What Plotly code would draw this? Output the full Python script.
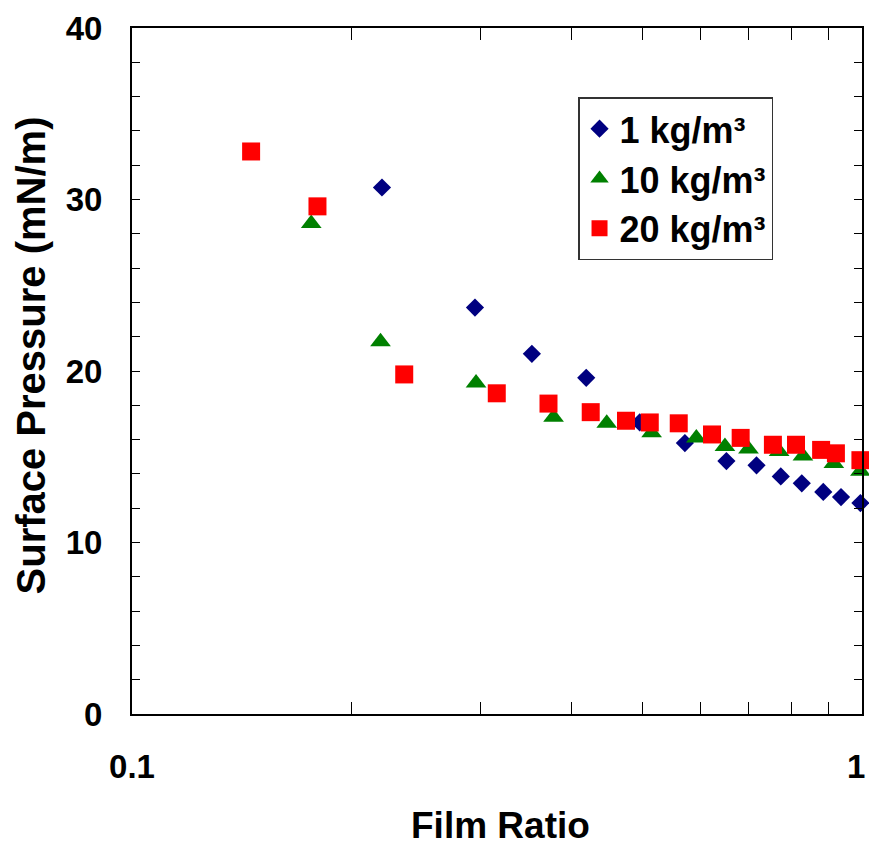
import plotly.graph_objects as go

# Surface pressure vs. film ratio for three loadings
ratio_1 = [0.220, 0.295, 0.353, 0.419, 0.496, 0.572, 0.652, 0.717, 0.774, 0.827, 0.885, 0.936, 0.995]
press_1 = [30.7, 23.7, 21.0, 19.6, 17.0, 15.8, 14.75, 14.5, 13.85, 13.45, 12.95, 12.65, 12.3]

ratio_10 = [0.176, 0.219, 0.296, 0.378, 0.447, 0.515, 0.593, 0.649, 0.699, 0.770, 0.830, 0.915, 0.995]
press_10 = [28.6, 21.7, 19.3, 17.3, 16.95, 16.4, 16.1, 15.6, 15.45, 15.3, 15.05, 14.6, 14.15]

ratio_20 = [0.1456, 0.1795, 0.236, 0.316, 0.372, 0.425, 0.475, 0.512, 0.561, 0.623,
            0.682, 0.755, 0.812, 0.879, 0.921, 0.995]
press_20 = [32.8, 29.6, 19.8, 18.7, 18.1, 17.6, 17.1, 17.0, 16.95, 16.3,
            16.1, 15.7, 15.7, 15.4, 15.2, 14.8]

series_names = ["1 kg/m³", "10 kg/m³", "20 kg/m³"]
x_tick_vals = [0.1, 1]
x_tick_text = ["0.1", ""]          # the "1" at the right edge is placed below, right-aligned
x_end_label = "1"
x_minor_vals = [0.2, 0.3, 0.4, 0.5, 0.6, 0.7, 0.8, 0.9]
y_tick_vals = [0, 10, 20, 30, 40]

FONT = "Arial, Liberation Sans, sans-serif"

fig = go.Figure()
fig.add_trace(go.Scatter(
    x=ratio_1, y=press_1, mode="markers", name=series_names[0], cliponaxis=False,
    marker=dict(symbol="diamond", size=14, color="#000080"),
))
fig.add_trace(go.Scatter(
    x=ratio_10, y=press_10, mode="markers", name=series_names[1], cliponaxis=False,
    marker=dict(symbol="triangle-up", size=18, color="#008000"),
))
fig.add_trace(go.Scatter(
    x=ratio_20, y=press_20, mode="markers", name=series_names[2], cliponaxis=False,
    marker=dict(symbol="square", size=18, color="#FF0000"),
))

fig.update_layout(
    width=869, height=846,
    margin=dict(l=132, r=7, t=28, b=132, autoexpand=False),
    paper_bgcolor="white", plot_bgcolor="white",
    font=dict(family=FONT, color="black"),
    showlegend=True,
    legend=dict(
        x=0.611, y=0.899, xanchor="left", yanchor="top",
        bgcolor="white", bordercolor="#333333", borderwidth=1.5,
        font=dict(size=36, family=FONT, color="black", weight="bold"),
        itemsizing="trace", tracegroupgap=0,
    ),
    xaxis=dict(
        type="log", range=[-1, 0], automargin=False,
        tickvals=x_tick_vals, ticktext=x_tick_text,
        ticks="inside", ticklen=12, tickcolor="black", tickwidth=1,
        showline=True, linecolor="black", linewidth=2, mirror="allticks",
        showgrid=False, zeroline=False,
        tickfont=dict(size=33, family=FONT, weight="bold"),
        ticklabelstandoff=22,
        minor=dict(tickvals=x_minor_vals, ticks="inside", ticklen=12,
                   tickcolor="black", tickwidth=1, showgrid=False),
    ),
    yaxis=dict(
        range=[0, 40], tickvals=y_tick_vals, automargin=False,
        ticks="inside", ticklen=8, tickcolor="black", tickwidth=1,
        showline=True, linecolor="black", linewidth=2, mirror="allticks",
        showgrid=False, zeroline=False,
        tickfont=dict(size=33, family=FONT, weight="bold"),
        ticklabelstandoff=21,
        minor=dict(dtick=2, ticks="inside", ticklen=8, tickcolor="black",
                   tickwidth=1, showgrid=False),
    ),
    annotations=[
        dict(text=x_end_label, xref="x", yref="paper", x=0, y=-0.077,
             xanchor="right", yanchor="middle", xshift=5, showarrow=False,
             font=dict(size=33, family=FONT, weight="bold")),
        dict(text="Film Ratio", xref="paper", yref="paper", x=0.505, y=-0.162,
             xanchor="center", yanchor="middle", showarrow=False,
             font=dict(size=37, family=FONT, weight="bold")),
        dict(text="Surface Pressure (mN/m)", xref="paper", yref="paper",
             x=-0.138, y=0.523, xanchor="center", yanchor="middle",
             textangle=-90, showarrow=False,
             font=dict(size=40, family=FONT, weight="bold")),
    ],
)

fig.write_html("out.html")
